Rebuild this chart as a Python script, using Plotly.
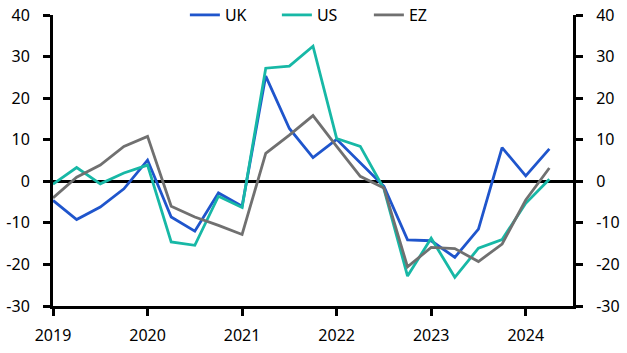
import plotly.graph_objects as go

quarters = [2019 + i * 0.25 for i in range(22)]
uk = [-4.6, -9.2, -6.2, -1.8, 5.1, -8.6, -12.0, -2.8, -6.0, 25.3, 12.7, 5.7,
      10.1, 4.5, -1.2, -14.1, -14.3, -18.3, -11.5, 8.1, 1.3, 7.8]
us = [-0.7, 3.3, -0.6, 2.0, 3.9, -14.6, -15.4, -3.6, -6.3, 27.2, 27.7, 32.5,
      10.3, 8.4, -1.8, -22.8, -13.7, -23.1, -16.1, -14.0, -5.3, 0.5]
ez = [-4.0, 1.0, 3.9, 8.4, 10.8, -6.0, -8.6, -10.6, -12.8, 6.7, 11.1, 15.8,
      8.4, 1.2, -1.6, -20.6, -15.9, -16.2, -19.3, -15.1, -4.5, 3.2]
series = [("UK", uk, "#1f55cc"), ("US", us, "#17b8a6"), ("EZ", ez, "#707070")]

year_ticks = [2019, 2020, 2021, 2022, 2023, 2024]
y_ticks = [-30, -20, -10, 0, 10, 20, 30, 40]
y_labels = [str(v) for v in y_ticks]

font = dict(family="Noto Sans", size=16, color="#000000")

fig = go.Figure()
for name, vals, col in series:
    fig.add_trace(go.Scatter(x=quarters, y=vals, name=name, mode="lines",
                             line=dict(color=col, width=2.8)))
fig.add_trace(go.Scatter(x=quarters, y=ez, yaxis="y2", mode="lines",
                         line=dict(width=0), showlegend=False, hoverinfo="skip",
                         opacity=0))

yax = dict(range=[-30, 40], tickvals=y_ticks, ticktext=y_labels,
           showgrid=False, zeroline=True, zerolinecolor="#000000", zerolinewidth=2.5,
           showline=True, linecolor="#000000", linewidth=3,
           ticks="outside", ticklen=7, tickwidth=2.5, tickcolor="#000000",
           tickfont=font, fixedrange=True, ticklabelstandoff=10)

fig.update_layout(
    width=627, height=353,
    margin=dict(l=53, r=54, t=15, b=47, autoexpand=False),
    paper_bgcolor="white", plot_bgcolor="white",
    font=font,
    xaxis=dict(range=[2019, 2024.5], tickvals=year_ticks,
               ticktext=[str(y) for y in year_ticks],
               showgrid=False, zeroline=False, showline=True,
               linecolor="#000000", linewidth=3, ticks="outside", ticklen=7,
               tickwidth=2.5, tickcolor="#000000", tickfont=font,
               ticklabelstandoff=6),
    yaxis=dict(side="left", **yax),
    yaxis2=dict(side="right", overlaying="y", **yax),
    legend=dict(orientation="h", x=0.519, xanchor="center", y=1.0, yanchor="middle",
                font=font, bgcolor="rgba(0,0,0,0)", entrywidth=47),
    showlegend=True,
)

fig.write_html("out.html")
